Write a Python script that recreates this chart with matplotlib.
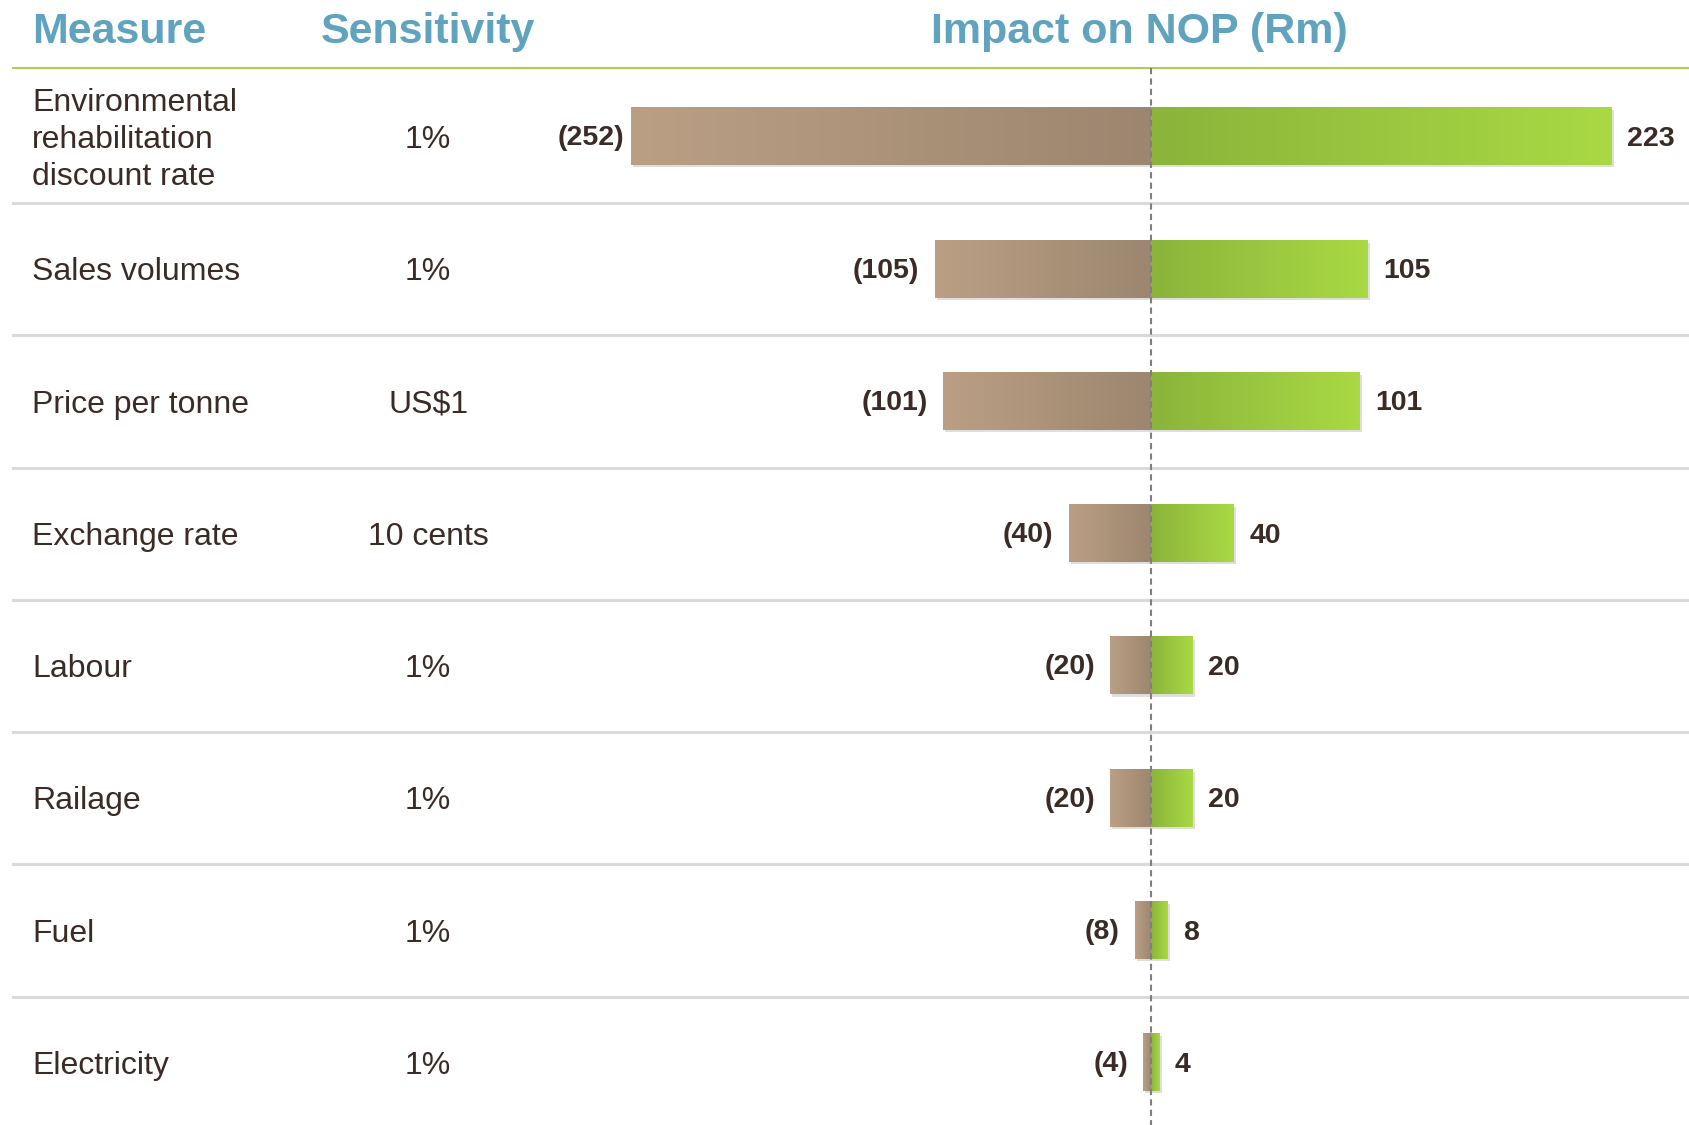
import matplotlib
matplotlib.use("Agg")
import matplotlib.pyplot as plt
import matplotlib.patheffects as pe
import matplotlib.transforms as mtransforms
import numpy as np

plt.rcParams['font.family'] = ['Liberation Sans', 'DejaVu Sans']

measures = ["Environmental\nrehabilitation\ndiscount rate", "Sales volumes", "Price per tonne",
            "Exchange rate", "Labour", "Railage", "Fuel", "Electricity"]
sensitivity = ["1%", "1%", "US$1", "10 cents", "1%", "1%", "1%", "1%"]
impact_down = [-252, -105, -101, -40, -20, -20, -8, -4]
impact_up = [223, 105, 101, 40, 20, 20, 8, 4]

head_col = "#5fa3bf"
text_col = "#3b2b27"
brown = ["#ba9f84", "#9c866f"]   # light -> dark
green = ["#8ab43a", "#a9d944"]   # dark -> light

fig = plt.figure(figsize=(16.9, 11.25), dpi=100)
ax = fig.add_axes([0, 0, 1, 1])
ax.set_xlim(-557.6, 260.8)
ax.set_ylim(7.471, -1.035)
ax.axis("off")

trans = mtransforms.blended_transform_factory(ax.transAxes, ax.transData)
dy = 0.025  # text sits a touch lower than the row centre

# headings
ax.text(0.019, -0.816 + dy, "Measure", transform=trans, color=head_col, fontsize=31,
        fontweight="bold", va="center", ha="left")
ax.text(0.2533, -0.816 + dy, "Sensitivity", transform=trans, color=head_col, fontsize=31,
        fontweight="bold", va="center", ha="center")
ax.text(0.674, -0.816 + dy, "Impact on NOP (Rm)", transform=trans, color=head_col, fontsize=31,
        fontweight="bold", va="center", ha="center")
ax.plot([0.0077, 1], [-0.522, -0.522], transform=trans, color="#a6d048", lw=1.4)

n = len(measures)
h = 0.431

for i in range(n):
    ax.text(0.019, i + dy, measures[i], transform=trans, color=text_col, fontsize=23,
            va="center", ha="left", linespacing=1.31)
    ax.text(0.2533, i + dy, sensitivity[i], transform=trans, color=text_col, fontsize=23,
            va="center", ha="center")
    if i < n - 1:
        ax.plot([0.0077, 1], [i + 0.5, i + 0.5], transform=trans, color="#dadada", lw=2.2)

    # bars with gradient fill
    for val, cols in ((impact_down[i], brown), (impact_up[i], green)):
        x0, x1 = min(0, val), max(0, val)
        ax.barh(i, val, height=h, color=cols[0], zorder=2,
                path_effects=[pe.SimplePatchShadow(offset=(1.5, -1.5), shadow_rgbFace="#c8c8c8", alpha=0.6),
                              pe.Normal()])
        c0 = np.array(matplotlib.colors.to_rgb(cols[0]))
        c1 = np.array(matplotlib.colors.to_rgb(cols[1]))
        t = np.linspace(0, 1, 256)[None, :, None]
        grad = c0 + (c1 - c0) * t
        ax.imshow(grad, extent=(x0, x1, i + h / 2, i - h / 2), aspect="auto",
                  interpolation="bilinear", zorder=3)

    # the widest bar leaves little room, so its label sits closer
    pad = -5 if impact_down[i] < -200 else -11
    ax.annotate("(%d)" % abs(impact_down[i]), (impact_down[i], i), xytext=(pad, -1),
                textcoords="offset points", ha="right", va="center", fontsize=20.5,
                fontweight="bold", color=text_col)
    ax.annotate("%d" % impact_up[i], (impact_up[i], i), xytext=(11, -1.5),
                textcoords="offset points", ha="left", va="center", fontsize=20.5,
                fontweight="bold", color=text_col)

ax.set_xlim(-557.6, 260.8)
ax.set_ylim(7.471, -1.035)

# dashed centre line
ax.plot([0, 0], [-0.522, 7.471], color="#7f7f7f", lw=1.5, ls=(0, (3, 2)), zorder=5)

fig.savefig("out.png", dpi=100)
